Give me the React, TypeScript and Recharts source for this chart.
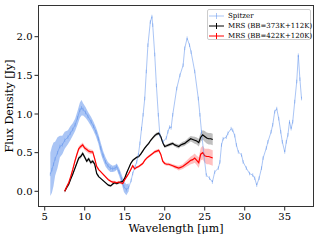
import { ComposedChart, Line, Area, XAxis, YAxis } from 'recharts';

// Spitzer spectrum (wavelength in micron, flux in Jy)
const spitzerWave = [
  5.7, 5.9, 6.1, 6.3, 6.6, 6.9, 7.2, 7.5, 7.9, 8.2,
  8.5, 8.8, 9.1, 9.4, 9.6, 9.8, 10.1, 10.4, 10.8, 11.1,
  11.4, 11.7, 12.0, 12.3, 12.6, 12.9, 13.2, 13.5, 13.8, 14.0,
  14.3, 14.6, 14.9, 15.2, 15.5, 15.8, 16.0, 16.3, 16.5, 16.7,
  16.9, 17.1, 17.3, 17.5, 17.7, 17.9, 18.2, 18.4, 18.5, 18.75,
  18.96, 19.2, 19.4, 19.8, 20.2, 20.4, 20.6, 20.8, 21.0, 21.5,
  21.9, 22.3, 22.5, 22.8, 23.1, 23.3, 23.75, 24.2, 24.4, 24.6,
  24.9, 25.2, 25.6, 25.96, 26.25, 26.7, 26.9, 27.1, 27.3, 27.7,
  27.9, 28.3, 28.5, 28.75, 28.96, 29.2, 29.6, 29.8, 30.2, 30.6,
  31.0, 31.25, 31.5, 31.8, 32.1, 32.3, 32.7, 32.9, 33.3, 33.5,
  33.75, 34.0, 34.25, 34.5, 34.7, 35.0, 35.2, 35.4, 35.6, 35.8,
  36.0, 36.25, 36.5, 36.7, 36.9, 37.1,
];
const spitzerFlux = [
  0.22, 0.28, 0.35, 0.42, 0.5, 0.58, 0.6, 0.66, 0.7, 0.75,
  0.8, 0.86, 0.95, 1.05, 1.08, 1.06, 1.02, 0.97, 0.9, 0.84,
  0.77, 0.68, 0.56, 0.46, 0.38, 0.33, 0.3, 0.29, 0.3, 0.32,
  0.25, 0.16, 0.06, 0.02, 0.05, 0.14, 0.23, 0.32, 0.38, 0.47,
  0.62, 0.81, 0.99, 1.2, 1.55, 1.89, 2.19, 2.26, 2.15, 1.77,
  1.37, 0.99, 0.72, 0.64, 0.69, 0.77, 0.83, 0.82, 0.99, 1.33,
  1.5, 1.63, 1.85, 1.98, 1.89, 1.8, 1.55, 1.2, 0.99, 0.77,
  0.47, 0.21, 0.17, 0.12, 0.25, 0.3, 0.38, 0.6, 0.68, 0.7,
  0.75, 0.81, 0.79, 0.72, 0.6, 0.51, 0.47, 0.38, 0.3, 0.23,
  0.21, 0.17, 0.08, 0.17, 0.3, 0.43, 0.56, 0.64, 0.77, 0.86,
  1.03, 1.07, 0.94, 0.77, 0.64, 0.51, 0.64, 0.73, 0.9, 0.81,
  0.9, 1.16, 1.42, 1.76, 1.45, 1.2,
];
// error half-width, short wavelength part only
const spitzerErr = [
  0.28, 0.3, 0.28, 0.22, 0.2, 0.14, 0.12, 0.11, 0.09, 0.09,
  0.08, 0.08, 0.09, 0.1, 0.1, 0.08, 0.07, 0.06, 0.06, 0.06,
  0.06, 0.06, 0.07, 0.06, 0.06, 0.05, 0.05, 0.04, 0.04, 0.04,
  0.05, 0.06, 0.07, 0.07, 0.05,
];

// MRS spectra, two blackbody subtractions
const mrsWave = [
  7.5, 7.75, 8.0, 8.25, 8.5, 8.75, 9.0, 9.25, 9.5, 9.75,
  10.0, 10.25, 10.5, 10.75, 11.0, 11.25, 11.5, 11.75, 12.95, 13.25,
  13.5, 13.75, 14.0, 14.25, 14.5, 14.75, 15.0, 15.25, 15.5, 15.75,
  16.0, 16.25, 16.5, 16.75, 17.0, 17.25, 17.5, 17.75, 18.0, 18.25,
  18.5, 18.75, 19.0, 19.25, 19.5, 19.75, 20.0, 20.25, 20.5, 20.75,
  21.0, 21.25, 21.5, 21.75, 22.0, 22.25, 22.5, 22.75, 23.0, 23.25,
  23.5, 23.75, 24.0, 24.25, 24.5, 24.75, 25.0, 25.25, 25.5, 25.75,
  26.0,
];
const mrsFlux373 = [
  0.0, 0.05, 0.09, 0.16, 0.22, 0.29, 0.36, 0.43, 0.45, 0.49,
  0.44, 0.39, 0.42, 0.37, 0.39, 0.35, 0.23, 0.19, 0.08, 0.07,
  0.095, 0.11, 0.1, 0.11, 0.12, 0.13, 0.17, 0.24, 0.3, 0.36,
  0.4, 0.42, 0.44, 0.45, 0.48, 0.52, 0.56, 0.59, 0.62, 0.66,
  0.69, 0.72, 0.74, 0.75, 0.71, 0.63, 0.58, 0.59, 0.6, 0.61,
  0.62, 0.6, 0.59, 0.58, 0.6, 0.61, 0.62, 0.64, 0.66, 0.68,
  0.67, 0.66, 0.65, 0.63, 0.7, 0.73, 0.71, 0.69, 0.68, 0.68,
  0.67,
];
const mrsErr373 = [
  0.02, 0.02, 0.02, 0.02, 0.02, 0.02, 0.02, 0.025, 0.025, 0.025,
  0.025, 0.025, 0.025, 0.025, 0.02, 0.02, 0.02, 0.02, 0.015, 0.015,
  0.015, 0.015, 0.015, 0.015, 0.015, 0.015, 0.015, 0.015, 0.015, 0.015,
  0.015, 0.015, 0.015, 0.015, 0.015, 0.015, 0.015, 0.015, 0.015, 0.015,
  0.015, 0.02, 0.02, 0.02, 0.02, 0.02, 0.02, 0.02, 0.02, 0.02,
  0.02, 0.02, 0.025, 0.025, 0.025, 0.03, 0.03, 0.03, 0.035, 0.035,
  0.04, 0.045, 0.045, 0.05, 0.06, 0.06, 0.07, 0.07, 0.075, 0.075,
  0.075,
];
const mrsFlux422 = [
  0.0, 0.06, 0.11, 0.19, 0.28, 0.38, 0.47, 0.55, 0.58, 0.6,
  0.56, 0.54, 0.52, 0.51, 0.51, 0.42, 0.32, 0.28, 0.15, 0.13,
  0.12, 0.12, 0.11, 0.12, 0.11, 0.1, 0.15, 0.19, 0.23, 0.28,
  0.33, 0.29, 0.31, 0.32, 0.34, 0.36, 0.4, 0.43, 0.45, 0.47,
  0.49, 0.51, 0.52, 0.53, 0.48, 0.39, 0.36, 0.35, 0.35, 0.34,
  0.33, 0.32, 0.31, 0.3, 0.31, 0.32, 0.34, 0.36, 0.38, 0.4,
  0.41, 0.43, 0.4, 0.37, 0.48, 0.5, 0.46, 0.45, 0.45, 0.44,
  0.43,
];
const mrsErr422 = [
  0.02, 0.02, 0.02, 0.025, 0.025, 0.025, 0.025, 0.03, 0.03, 0.03,
  0.03, 0.03, 0.03, 0.03, 0.025, 0.025, 0.02, 0.02, 0.015, 0.015,
  0.015, 0.015, 0.015, 0.015, 0.015, 0.015, 0.015, 0.015, 0.015, 0.015,
  0.015, 0.015, 0.015, 0.015, 0.015, 0.015, 0.015, 0.015, 0.015, 0.015,
  0.015, 0.02, 0.02, 0.02, 0.02, 0.02, 0.02, 0.02, 0.02, 0.02,
  0.02, 0.025, 0.025, 0.03, 0.03, 0.03, 0.035, 0.04, 0.045, 0.05,
  0.055, 0.06, 0.06, 0.07, 0.08, 0.09, 0.09, 0.1, 0.1, 0.1,
  0.1,
];

const xTicks = [5, 10, 15, 20, 25, 30, 35];
const yTicks = [0, 0.5, 1.0, 1.5, 2.0];

const FONT = '"DejaVu Serif", serif';
const SPITZER = '#6495ED';

const spitzerRows = spitzerWave.map((w, i) => ({ wave: w, flux: spitzerFlux[i] }));
const spitzerBand = spitzerErr.map((e, i) => ({
  wave: spitzerWave[i],
  band: [spitzerFlux[i] - e, spitzerFlux[i] + e],
}));

const toRows = (flux: number[]) => mrsWave.map((w, i) => ({ wave: w, flux: flux[i] }));

// band rows, broken where the MRS coverage has a gap
const toBand = (flux: number[], err: number[]) => {
  const rows: { wave: number; band: number[] | null }[] = [];
  mrsWave.forEach((w, i) => {
    if (i > 0 && w - mrsWave[i - 1] > 0.5) {
      rows.push({ wave: (w + mrsWave[i - 1]) / 2, band: null });
    }
    rows.push({ wave: w, band: [flux[i] - err[i], flux[i] + err[i]] });
  });
  return rows;
};

const rows373 = toRows(mrsFlux373);
const rows422 = toRows(mrsFlux422);
const band373 = toBand(mrsFlux373, mrsErr373);
const band422 = toBand(mrsFlux422, mrsErr422);

const ErrTick = (props: any) => {
  const { cx, cy, index } = props;
  if (cx == null || cy == null) return <g key={index} />;
  return (
    <path key={index} d={`M${cx},${cy - 1.8}V${cy + 1.8}`} stroke={SPITZER} strokeOpacity={0.6} strokeWidth={0.8} />
  );
};

const legendItems = [
  { label: 'Spitzer', color: SPITZER, opacity: 0.55 },
  { label: 'MRS (BB=373K+112K)', color: '#000000', opacity: 1 },
  { label: 'MRS (BB=422K+120K)', color: '#ff0000', opacity: 1 },
];

const LegendBox = () => (
  <div
    style={{
      position: 'absolute',
      left: 207,
      top: 9,
      width: 104,
      height: 31,
      boxSizing: 'border-box',
      border: '1px solid #cccccc',
      borderRadius: 2,
      background: 'rgba(255,255,255,0.8)',
      fontFamily: FONT,
      fontSize: 7,
      color: '#000',
    }}
  >
    {legendItems.map((item, i) => (
      <div key={item.label} style={{ position: 'absolute', left: 0, top: 1 + i * 10, height: 10, display: 'flex', alignItems: 'center', whiteSpace: 'nowrap' }}>
        <svg width={20} height={10} style={{ flex: 'none' }}>
          <g stroke={item.color} strokeOpacity={item.opacity} strokeWidth={1}>
            <line x1={1} x2={16} y1={5} y2={5} />
            <line x1={8.5} x2={8.5} y1={2} y2={8} />
          </g>
        </svg>
        <span style={{ lineHeight: '10px' }}>{item.label}</span>
      </div>
    ))}
  </div>
);

export default function App() {
  return (
    <div style={{ position: 'absolute', left: 0, top: 0, width: 320, height: 240, background: '#fff' }}>
      <ComposedChart width={320} height={240} margin={{ top: 5, right: 6, bottom: 0, left: 0 }}>
        <XAxis
          dataKey="wave"
          type="number"
          domain={[4.16, 38.66]}
          ticks={xTicks}
          allowDataOverflow
          axisLine={false}
          tickSize={3.5}
          tickLine={{ stroke: '#222' }}
          tick={{ fontFamily: FONT, fontSize: 10, fill: '#000' }}
          height={33}
          label={{ value: 'Wavelength [μm]', position: 'insideBottom', offset: 8, style: { fontFamily: FONT, fontSize: 11, fill: '#000' } }}
        />
        <YAxis
          type="number"
          domain={[-0.203, 2.41]}
          ticks={yTicks}
          allowDataOverflow
          axisLine={false}
          tickSize={3.5}
          tickLine={{ stroke: '#222' }}
          tick={{ fontFamily: FONT, fontSize: 10, fill: '#000' }}
          tickFormatter={(v: number) => v.toFixed(1)}
          width={38}
          label={{ value: 'Flux Density [Jy]', angle: -90, position: 'insideLeft', offset: 9, style: { fontFamily: FONT, fontSize: 11, fill: '#000', textAnchor: 'middle' } }}
        />

        {/* Spitzer */}
        <Area data={spitzerBand} dataKey="band" type="linear" stroke="none" fill={SPITZER} fillOpacity={0.55} isAnimationActive={false} />
        <Line data={spitzerRows} dataKey="flux" type="linear" stroke={SPITZER} strokeOpacity={0.55} strokeWidth={1} dot={ErrTick} isAnimationActive={false} />

        {/* MRS, BB = 373K + 112K */}
        <Area data={band373} dataKey="band" type="linear" stroke="none" fill="#808080" fillOpacity={0.5} isAnimationActive={false} />
        <Line data={rows373} dataKey="flux" type="linear" stroke="#000" strokeWidth={1.2} dot={false} isAnimationActive={false} />

        {/* MRS, BB = 422K + 120K */}
        <Area data={band422} dataKey="band" type="linear" stroke="none" fill="#ff0000" fillOpacity={0.25} isAnimationActive={false} />
        <Line data={rows422} dataKey="flux" type="linear" stroke="#ff0000" strokeWidth={1.2} dot={false} isAnimationActive={false} />
      </ComposedChart>

      {/* axes frame */}
      <div style={{ position: 'absolute', left: 38, top: 5, width: 276, height: 202, boxSizing: 'border-box', border: '1px solid #333', pointerEvents: 'none' }} />
      <LegendBox />
    </div>
  );
}
